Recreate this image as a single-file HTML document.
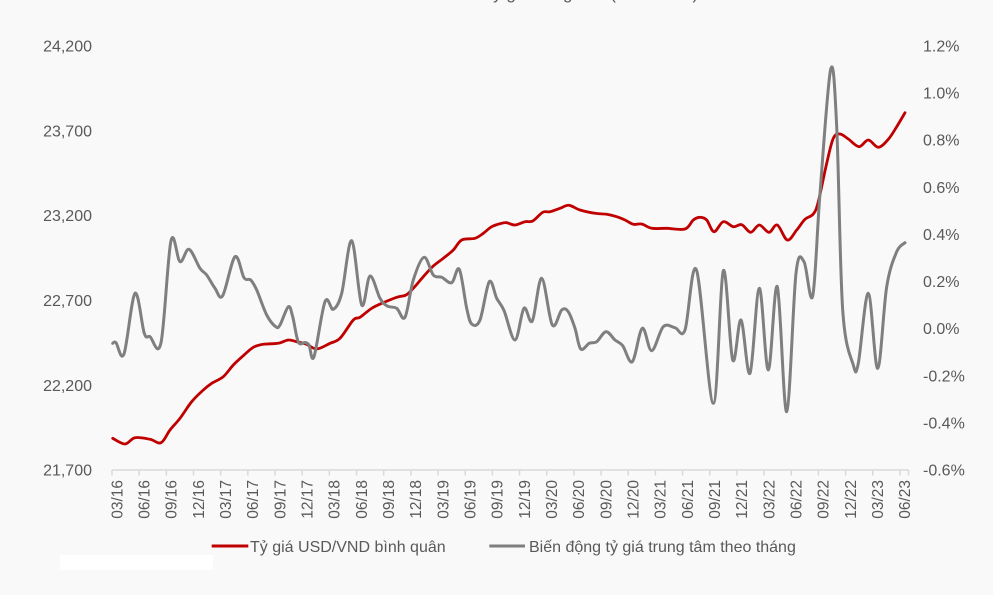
<!DOCTYPE html>
<html>
<head>
<meta charset="utf-8">
<style>
  html, body { margin:0; padding:0; }
  body { width:993px; height:595px; overflow:hidden; background:#f9f9f9; }
  svg { display:block; }
  text { font-family: "Liberation Sans", "DejaVu Sans", sans-serif; fill:#595959; }
</style>
</head>
<body>
<svg id="c" width="993" height="595" viewBox="0 0 993 595" xmlns="http://www.w3.org/2000/svg">
  <rect x="0" y="0" width="993" height="595" fill="#f9f9f9"/>
  <rect x="60" y="555" width="153" height="15" fill="#ffffff"/>

  <!-- clipped title -->
  <text x="555" y="-1" font-size="17" text-anchor="middle" fill="#404040">Diễn biến tỷ giá trung tâm (VND/USD)</text>

  <!-- left axis labels -->
  <g font-size="16" text-anchor="end">
    <text x="92" y="51.4">24,200</text>
    <text x="92" y="136.3">23,700</text>
    <text x="92" y="221.1">23,200</text>
    <text x="92" y="306">22,700</text>
    <text x="92" y="390.8">22,200</text>
    <text x="92" y="475.7">21,700</text>
  </g>

  <!-- right axis labels -->
  <g font-size="16" text-anchor="start">
    <text x="923" y="51.4">1.2%</text>
    <text x="923" y="98.5">1.0%</text>
    <text x="923" y="145.7">0.8%</text>
    <text x="923" y="192.8">0.6%</text>
    <text x="923" y="239.9">0.4%</text>
    <text x="923" y="287">0.2%</text>
    <text x="923" y="334.1">0.0%</text>
    <text x="923" y="381.3">-0.2%</text>
    <text x="923" y="428.4">-0.4%</text>
    <text x="923" y="475.5">-0.6%</text>
  </g>

  <!-- x axis -->
  <line x1="112" y1="470" x2="908.5" y2="470" stroke="#d9d9d9" stroke-width="1.5"/>
  <g id="ticks" stroke="#d9d9d9" stroke-width="1.5"></g>
  <g id="xl" font-size="15.5" text-anchor="end">
    <text transform="translate(122.3,480) rotate(-90)">03/16</text>
    <text transform="translate(149.5,480) rotate(-90)">06/16</text>
    <text transform="translate(176.6,480) rotate(-90)">09/16</text>
    <text transform="translate(203.8,480) rotate(-90)">12/16</text>
    <text transform="translate(231.0,480) rotate(-90)">03/17</text>
    <text transform="translate(258.2,480) rotate(-90)">06/17</text>
    <text transform="translate(285.3,480) rotate(-90)">09/17</text>
    <text transform="translate(312.5,480) rotate(-90)">12/17</text>
    <text transform="translate(339.7,480) rotate(-90)">03/18</text>
    <text transform="translate(366.8,480) rotate(-90)">06/18</text>
    <text transform="translate(394.0,480) rotate(-90)">09/18</text>
    <text transform="translate(421.2,480) rotate(-90)">12/18</text>
    <text transform="translate(448.3,480) rotate(-90)">03/19</text>
    <text transform="translate(475.5,480) rotate(-90)">06/19</text>
    <text transform="translate(502.7,480) rotate(-90)">09/19</text>
    <text transform="translate(529.9,480) rotate(-90)">12/19</text>
    <text transform="translate(557.0,480) rotate(-90)">03/20</text>
    <text transform="translate(584.2,480) rotate(-90)">06/20</text>
    <text transform="translate(611.4,480) rotate(-90)">09/20</text>
    <text transform="translate(638.5,480) rotate(-90)">12/20</text>
    <text transform="translate(665.7,480) rotate(-90)">03/21</text>
    <text transform="translate(692.9,480) rotate(-90)">06/21</text>
    <text transform="translate(720.0,480) rotate(-90)">09/21</text>
    <text transform="translate(747.2,480) rotate(-90)">12/21</text>
    <text transform="translate(774.4,480) rotate(-90)">03/22</text>
    <text transform="translate(801.6,480) rotate(-90)">06/22</text>
    <text transform="translate(828.7,480) rotate(-90)">09/22</text>
    <text transform="translate(855.9,480) rotate(-90)">12/22</text>
    <text transform="translate(883.1,480) rotate(-90)">03/23</text>
    <text transform="translate(910.2,480) rotate(-90)">06/23</text>
  </g>

  <!-- series -->
  <path id="red" fill="none" stroke="#c00000" stroke-width="2.8" stroke-linejoin="round" stroke-linecap="round"
    d="M112.7,438.3 L125,444 L135,437.7 L150,439.3 L161,442.7 L170,430 L180,418.3 L191.7,401.7 L203.3,390 L211.7,383.3 L223.3,376.7 L233.3,365 L243.3,355.7 L253.3,347.3 L263.3,344.3 L278.3,343.3 L288.3,340 L296.7,341.7 L306.7,344.3 L316.7,349 L330,343.3 L340,338.3 L353.3,320 L360,317.3 L371.7,308.3 L383.3,302.7 L396.7,297.3 L406,295 L413.3,288.3 L423.3,276.7 L433.3,266 L443.3,258.3 L453.3,250 L461.7,240 L475,238.3 L483.3,233.3 L491.7,226.7 L501.7,223.3 L506.7,222.7 L515,225 L525,221.7 L532.7,221 L542.7,212.3 L550,211.7 L560,208.3 L569,205.3 L580,210 L595,213.3 L606.7,214.3 L616.7,216.7 L625,220 L633.3,224.3 L641.7,224 L651.7,228.3 L666.7,228.3 L685,229 L693.3,220 L700,217.3 L706.7,220 L714,231.7 L723.3,221.7 L733.3,226.7 L741.7,224.7 L750.7,232.3 L759.3,225 L769,232.3 L777.3,225 L787.3,240 L796.7,230 L805,219.3 L813.3,214 L818.3,201.7 L826.7,163.3 L833.3,138.3 L840,134 L848.3,139 L859,146.7 L868.3,140 L878.3,147.3 L888.3,139.3 L896.7,126.7 L905,112.7"/>
  <path id="gray" fill="none" stroke="#7f7f7f" stroke-width="3" stroke-linejoin="round" stroke-linecap="round"
    d="M112.7,343.3 L116,342.7 L124,354 L135,293.3 L144.3,333.3 L150,336.7 L161,342.7 L171,240.7 L180,261.7 L189,249.3 L200,268.3 L206.7,275 L215,288.3 L222.7,295.7 L235,256.7 L244,277.7 L250.7,280 L256.7,290 L266.7,315 L275.7,326.7 L280,325 L288.3,306.7 L292.7,316.7 L298.3,342 L305,342.5 L309,345 L314,356.7 L325,301.7 L333.3,309.3 L341.7,293.3 L351.7,240.7 L361.7,305 L370,276 L380,298.3 L387.3,306 L396.7,308.3 L405,317.3 L413.3,280 L424,257.3 L433.3,275 L441.7,277.3 L451.7,282.7 L459.3,269.3 L466.7,308.3 L471.7,324 L480,320 L489.3,281.7 L496.7,298.3 L504,310.5 L515,340 L524,308.3 L532.3,321 L541.7,278.3 L552.3,325 L561.7,310 L568.3,311.7 L575,328.3 L580.7,349 L589.3,343.3 L596.7,341.7 L606,331.7 L615,340 L622.7,345.7 L632.3,361.7 L642.3,328.3 L651.7,350.7 L663.3,326.7 L675,327.7 L685,330 L696.5,270 L713.3,403.3 L723.3,270.7 L732.7,360 L741,320 L750,373.3 L759.3,288.3 L768.3,370 L777.3,286.7 L786.7,411.7 L796,273.3 L804,261.7 L812.7,296 L820,193.3 L830.7,69.3 L836.7,126.7 L842.7,310 L853.3,365 L858.3,363.3 L868.3,293.3 L877.7,368.3 L886.7,286.7 L896.7,251.7 L905,242.7"/>

  <!-- legend -->
  <line x1="211.7" y1="546" x2="248.3" y2="546" stroke="#c00000" stroke-width="3"/>
  <text x="250" y="552.2" font-size="16" fill="#505050">Tỷ giá USD/VND bình quân</text>
  <line x1="489.3" y1="546" x2="525" y2="546" stroke="#7f7f7f" stroke-width="3"/>
  <text x="529" y="552.2" font-size="16" fill="#505050">Biến động tỷ giá trung tâm theo tháng</text>
</svg>
<script>
(function(){
  var NS = "http://www.w3.org/2000/svg";
  var tg = document.getElementById("ticks");
  var xs = [];
  for (var k = 0; k <= 29; k++) xs.push(112 + 27.17 * k);
  xs.push(908.5);
  xs.forEach(function(x){
    var l = document.createElementNS(NS, "line");
    l.setAttribute("x1", x); l.setAttribute("x2", x);
    l.setAttribute("y1", 470); l.setAttribute("y2", 475.5);
    tg.appendChild(l);
  });
  function smooth(id){
    var p = document.getElementById(id);
    var d = p.getAttribute("d");
    var nums = d.replace(/[ML]/g, " ").trim().split(/[\s,]+/).map(Number);
    var pts = [];
    for (var i = 0; i < nums.length; i += 2) pts.push([nums[i], nums[i+1]]);
    var n = pts.length;
    var out = "M" + pts[0][0] + "," + pts[0][1];
    for (var i = 0; i < n - 1; i++) {
      var p0 = pts[i > 0 ? i - 1 : i], p1 = pts[i], p2 = pts[i+1], p3 = pts[i + 2 < n ? i + 2 : i + 1];
      var c1x = p1[0] + (p2[0] - p0[0]) / 6, c1y = p1[1] + (p2[1] - p0[1]) / 6;
      var c2x = p2[0] - (p3[0] - p1[0]) / 6, c2y = p2[1] - (p3[1] - p1[1]) / 6;
      out += " C" + c1x.toFixed(2) + "," + c1y.toFixed(2) + " " + c2x.toFixed(2) + "," + c2y.toFixed(2) + " " + p2[0] + "," + p2[1];
    }
    p.setAttribute("d", out);
  }
  smooth("red");
  smooth("gray");
})();
</script>
</body>
</html>
